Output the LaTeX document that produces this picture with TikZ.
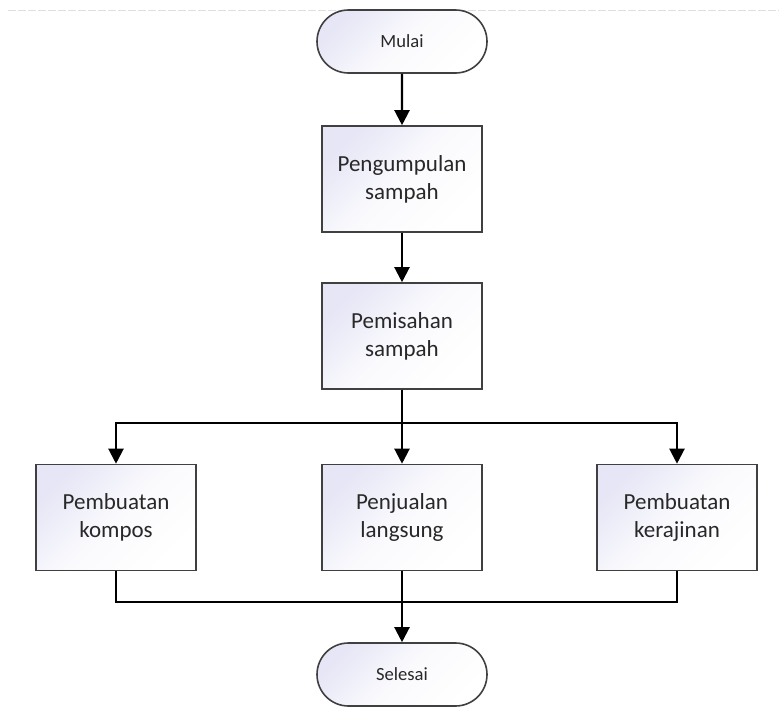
\documentclass[tikz,border=0pt]{standalone}
\usepackage{fontspec}
\setmainfont{Carlito}
\usetikzlibrary{arrows.meta,shapes.misc}
\definecolor{lav}{RGB}{230,230,246}
\definecolor{edge}{RGB}{64,64,64}
\definecolor{txt}{RGB}{40,40,40}
\tikzset{
  procbox/.style={draw=edge, line width=1.6pt, rectangle, minimum width=160pt, minimum height=106pt,
    top color=lav, bottom color=white, middle color=white!80!lav, shading angle=45, align=center, text=txt,
    font=\fontsize{23}{28}\selectfont, inner sep=0pt},
  termbox/.style={draw=edge, line width=1.6pt, rounded rectangle, minimum width=170pt, minimum height=63pt,
    top color=lav, bottom color=white, middle color=white!80!lav, shading angle=45, align=center, text=txt,
    font=\fontsize{18.6}{22}\selectfont, inner sep=0pt},
  arr/.style={line width=2.2pt, black, -{Triangle[width=15pt,length=15pt]}},
  ln/.style={line width=2.2pt, black}
}
\begin{document}
\begin{tikzpicture}[x=1pt,y=-1pt]
\useasboundingbox (0,0) rectangle (779,707);
\fill[white] (0,0) rectangle (779,707);
\coordinate (da) at (8,10.7);
\coordinate (db) at (779,10.7);
\draw[gray!25, line width=1.2pt, dash pattern=on 8pt off 2pt] (da) -- (db);
\node[termbox] (start) at (402,41.5) {Mulai};
\node[procbox] (p1) at (402,179) {Pengumpulan\\sampah};
\node[procbox] (p2) at (402,336) {Pemisahan\\sampah};
\node[procbox] (l) at (116,517.5) {Pembuatan\\kompos};
\node[procbox] (m) at (402,517.5) {Penjualan\\langsung};
\node[procbox] (r) at (677,517.5) {Pembuatan\\kerajinan};
\node[termbox] (end) at (402,674.5) {Selesai};
\coordinate (j) at (402,602);
\draw[arr] (start) -- (p1);
\draw[arr] (p1) -- (p2);
\draw[arr] (p2.south) -- (m.north);
\draw[arr] (p2.south) -- ++(0,33) -| (l.north);
\draw[arr] (p2.south) -- ++(0,33) -| (r.north);
\draw[ln] (l.south) |- (j);
\draw[ln] (r.south) |- (j);
\draw[arr] (m.south) -- (end.north);
\end{tikzpicture}
\end{document}
